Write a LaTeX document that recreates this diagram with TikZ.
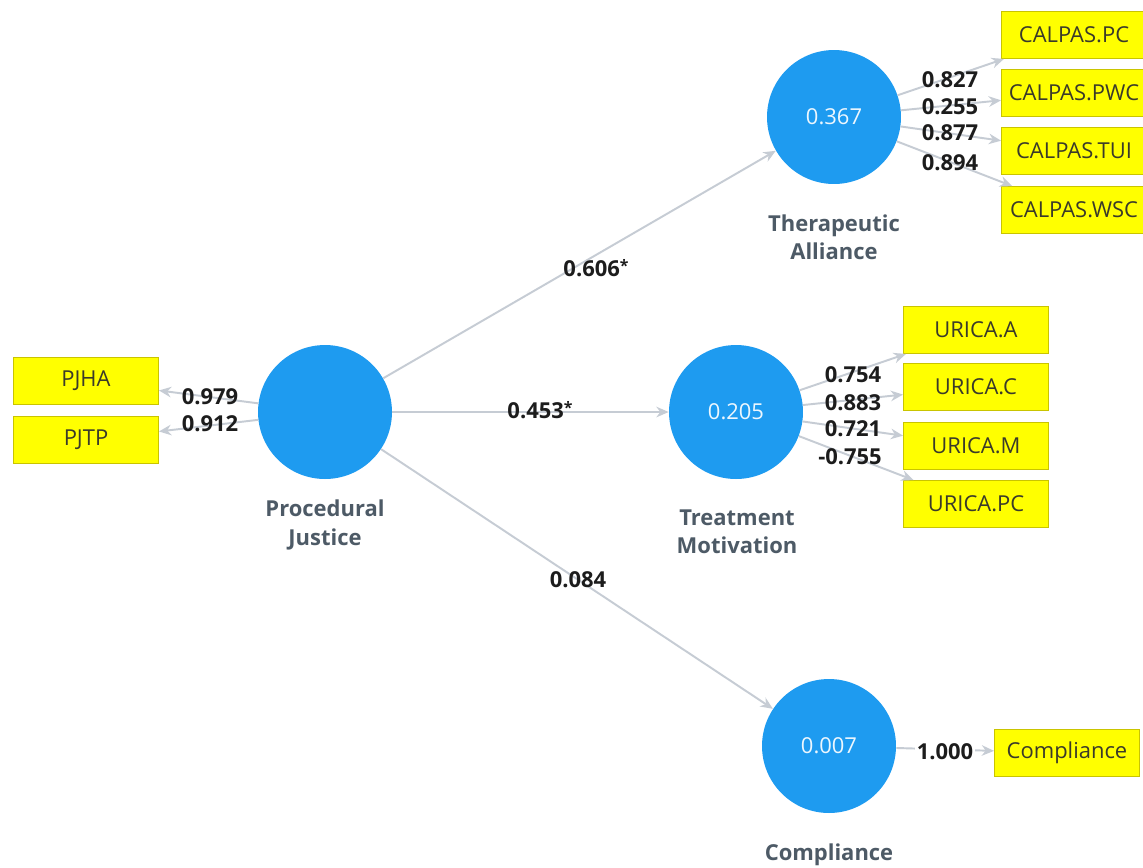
\documentclass[tikz,border=0pt]{standalone}
\usepackage{fontspec}
\setmainfont{Open Sans}
\usetikzlibrary{arrows.meta}
\definecolor{latentblue}{HTML}{1E9BF0}
\definecolor{itemyellow}{HTML}{FFFF00}
\definecolor{itemedge}{HTML}{C9C400}
\definecolor{pathgray}{HTML}{C6CCD4}
\definecolor{labelgray}{HTML}{4D5A66}
\definecolor{coefdark}{HTML}{1C1C1C}
\definecolor{itemtext}{HTML}{3A3A2A}
\newcommand{\sig}{\raisebox{2.5pt}{\fontsize{9}{9}\selectfont*}}
\tikzset{
  latent/.style={circle, fill=latentblue, draw=none, minimum size=2.68cm,
    inner sep=0pt, text=white!92!latentblue, font=\fontsize{12.5}{14}\selectfont},
  indicator/.style={rectangle, fill=itemyellow, draw=itemedge, line width=0.5pt,
    minimum width=2.9cm, minimum height=0.94cm, inner sep=0pt, text=itemtext,
    font=\fontsize{12.5}{14}\selectfont},
  lvname/.style={align=center, text=labelgray, font=\bfseries\fontsize{12.5}{16}\selectfont},
  coef/.style={text=coefdark, inner sep=0pt, font=\bfseries\fontsize{12.5}{14}\selectfont},
  link/.style={draw=pathgray, line width=1.1pt, -{Stealth[length=7pt,width=6pt]}},
}
\begin{document}
\begin{tikzpicture}[x=0.02cm, y=-0.02cm]
\useasboundingbox[fill=white] (0,0) rectangle (1143,867);

% latent variables
\node[latent] (pj) at (325,412) {};
\node[latent] (ta) at (834,117) {0.367};
\node[latent] (tm) at (736,412) {0.205};
\node[latent] (co) at (829,746) {0.007};

\node[lvname] (pjlab) at (325,525) {Procedural\\Justice};
\node[lvname] (talab) at (834,237) {Therapeutic\\Alliance};
\node[lvname] (tmlab) at (737,532) {Treatment\\Motivation};
\node[lvname] (colab) at (829,855) {Compliance};

% indicators
\node[indicator] (pjha) at (86,381) {PJHA};
\node[indicator] (pjtp) at (86,440) {PJTP};

\node[indicator] (cpc)  at (1074,35)  {CALPAS.PC};
\node[indicator] (cpwc) at (1074,93)  {CALPAS.PWC};
\node[indicator] (ctui) at (1074,151) {CALPAS.TUI};
\node[indicator] (cwsc) at (1074,210) {CALPAS.WSC};

\node[indicator] (ua)  at (976,330) {URICA.A};
\node[indicator] (uc)  at (976,387) {URICA.C};
\node[indicator] (um)  at (976,446) {URICA.M};
\node[indicator] (upc) at (976,504) {URICA.PC};

\node[indicator] (comp) at (1067,753) {Compliance};

% structural paths
\draw[link] (pj) -- (ta);
\draw[link] (pj) -- (tm);
\draw[link] (pj) -- (co);

% measurement paths
\draw[link] (pj) -- (pjha);
\draw[link] (pj) -- (pjtp);
\foreach \t in {cpc,cpwc,ctui,cwsc} \draw[link] (ta) -- (\t);
\foreach \t in {ua,uc,um,upc} \draw[link] (tm) -- (\t);
\draw[link] (co) -- (comp);

% path coefficients
\node[coef] (c1) at (596,268) {0.606\sig};
\node[coef] (c2) at (540,410) {0.453\sig};
\node[coef] (c3) at (578,580) {0.084};

% outer loadings
\node[coef] (l1) at (210,397) {0.979};
\node[coef] (l2) at (210,424) {0.912};

\node[coef] (l3) at (950,80)  {0.827};
\node[coef] (l4) at (950,107) {0.255};
\node[coef] (l5) at (950,133) {0.877};
\node[coef] (l6) at (950,163) {0.894};

\node[coef] (l7)  at (853,375) {0.754};
\node[coef] (l8)  at (853,403) {0.883};
\node[coef] (l9)  at (853,429) {0.721};
\node[coef] (l10) at (850,457) {-0.755};

\node[coef,fill=white,inner sep=1pt] (l11) at (945,752) {1.000};
\end{tikzpicture}
\end{document}
